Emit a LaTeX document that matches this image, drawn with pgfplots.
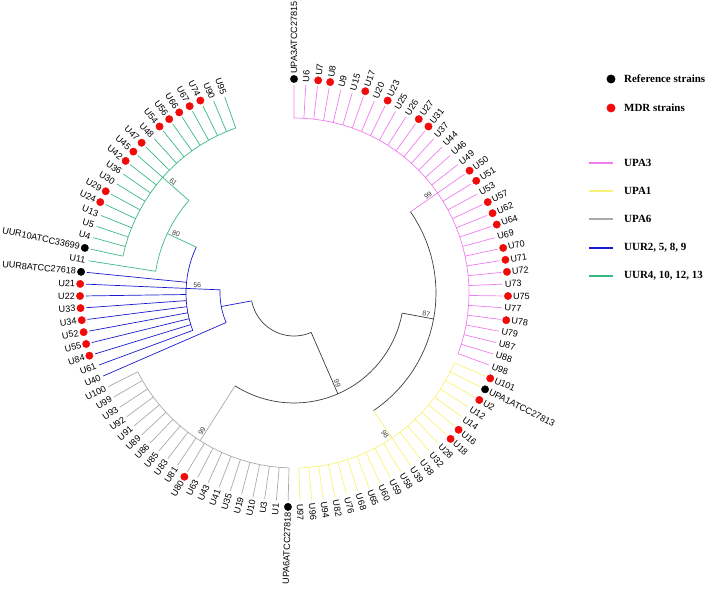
\documentclass[border=0pt]{standalone}
\usepackage{pgfplots}
\pgfplotsset{compat=1.18}
\usepackage{fontspec}
\setmainfont{Liberation Sans}
\newfontfamily\legfont{Liberation Serif}
\definecolor{pinkc}{RGB}{240,125,240}
\definecolor{yelc}{RGB}{248,242,120}
\definecolor{grayc}{RGB}{170,170,170}
\definecolor{bluec}{RGB}{25,25,205}
\definecolor{greenc}{RGB}{60,185,130}
\definecolor{treec}{RGB}{60,60,60}
\definecolor{mdr}{RGB}{240,10,10}
\newcommand{\PX}{\thisrow{r}*cos(90-\thisrow{t}*3.243243)}
\newcommand{\PY}{\thisrow{r}*sin(90-\thisrow{t}*3.243243)}
\pgfplotsset{tr/.style={line width=0.7bp,line join=round}}
\begin{document}
\begin{tikzpicture}
\begin{axis}[x=1bp,y=1bp,scale only axis,xmin=-294,xmax=415,ymin=-298,ymax=293,
  hide axis,clip=false]
% black backbone
\addplot[treec,tr] table[row sep=\\,x expr=\PX,y expr=\PY]{
t r\\
48.25 43\\49 43\\50 43\\51 43\\52 43\\53 43\\54 43\\55 43\\56 43\\57 43\\58 43\\59 43\\60 43\\61 43\\62 43\\63 43\\64 43\\65 43\\66 43\\67 43\\68 43\\69 43\\70 43\\71 43\\72 43\\73 43\\74 43\\75 43\\76 43\\77 43\\78 43\\79 43\\80 43\\
};
\addplot[treec,tr] table[row sep=\\,x expr=\PX,y expr=\PY]{
t r\\ 48.25 43\\48.25 110\\
};
\addplot[treec,tr] table[row sep=\\,x expr=\PX,y expr=\PY]{
t r\\
31 110\\32 110\\33 110\\34 110\\35 110\\36 110\\37 110\\38 110\\39 110\\40 110\\41 110\\42 110\\43 110\\44 110\\45 110\\46 110\\47 110\\48 110\\49 110\\50 110\\51 110\\52 110\\53 110\\54 110\\55 110\\56 110\\57 110\\58 110\\59 110\\60 110\\61 110\\62 110\\63 110\\64 110\\65 110\\65.5 110\\
};
\addplot[treec,tr] table[row sep=\\,x expr=\PX,y expr=\PY]{
t r\\ 31 110\\31 142\\
};
\addplot[treec,tr] table[row sep=\\,x expr=\PX,y expr=\PY]{
t r\\
17 142\\18 142\\19 142\\20 142\\21 142\\22 142\\23 142\\24 142\\25 142\\26 142\\27 142\\28 142\\29 142\\30 142\\31 142\\32 142\\33 142\\34 142\\35 142\\36 142\\37 142\\38 142\\39 142\\40 142\\41 142\\42 142\\43 142\\44 142\\45 142\\
};
% UPA3 (pink)
\addplot[pinkc,tr] table[row sep=\\,x expr=\PX,y expr=\PY]{
t r\\ 17 142\\17 175\\
};
\addplot[pinkc,tr] table[row sep=\\,x expr=\PX,y expr=\PY]{
t r\\
0 208\\0 175\\1 175\\1 208\\1 175\\2 175\\2 208\\2 175\\3 175\\3 208\\3 175\\4 175\\4 208\\4 175\\5 175\\5 208\\5 175\\6 175\\6 208\\6 175\\7 175\\7 208\\7 175\\8 175\\8 208\\8 175\\9 175\\9 208\\9 175\\10 175\\10 208\\10 175\\11 175\\11 208\\11 175\\12 175\\12 208\\12 175\\13 175\\13 208\\13 175\\14 175\\14 208\\14 175\\15 175\\15 208\\15 175\\16 175\\16 208\\16 175\\17 175\\17 208\\17 175\\18 175\\18 208\\18 175\\19 175\\19 208\\19 175\\20 175\\20 208\\20 175\\21 175\\21 208\\21 175\\22 175\\22 208\\22 175\\23 175\\23 208\\23 175\\24 175\\24 208\\24 175\\25 175\\25 208\\25 175\\26 175\\26 208\\26 175\\27 175\\27 208\\27 175\\28 175\\28 208\\28 175\\29 175\\29 208\\29 175\\30 175\\30 208\\30 175\\31 175\\31 208\\31 175\\32 175\\32 208\\32 175\\33 175\\33 208\\33 175\\34 175\\34 208\\
};
% UPA1 (yellow)
\addplot[yelc,tr] table[row sep=\\,x expr=\PX,y expr=\PY]{
t r\\ 45 142\\45 175\\
};
\addplot[yelc,tr] table[row sep=\\,x expr=\PX,y expr=\PY]{
t r\\
35 208\\35 175\\36 175\\36 208\\36 175\\37 175\\37 208\\37 175\\38 175\\38 208\\38 175\\39 175\\39 208\\39 175\\40 175\\40 208\\40 175\\41 175\\41 208\\41 175\\42 175\\42 208\\42 175\\43 175\\43 208\\43 175\\44 175\\44 208\\44 175\\45 175\\45 208\\45 175\\46 175\\46 208\\46 175\\47 175\\47 208\\47 175\\48 175\\48 208\\48 175\\49 175\\49 208\\49 175\\50 175\\50 208\\50 175\\51 175\\51 208\\51 175\\52 175\\52 208\\52 175\\53 175\\53 208\\53 175\\54 175\\54 208\\54 175\\55 175\\55 208\\
};
% UPA6 (gray)
\addplot[grayc,tr] table[row sep=\\,x expr=\PX,y expr=\PY]{
t r\\ 65.5 110\\65.5 175\\
};
\addplot[grayc,tr] table[row sep=\\,x expr=\PX,y expr=\PY]{
t r\\
56 208\\56 175\\57 175\\57 208\\57 175\\58 175\\58 208\\58 175\\59 175\\59 208\\59 175\\60 175\\60 208\\60 175\\61 175\\61 208\\61 175\\62 175\\62 208\\62 175\\63 175\\63 208\\63 175\\64 175\\64 208\\64 175\\65 175\\65 208\\65 175\\66 175\\66 208\\66 175\\67 175\\67 208\\67 175\\68 175\\68 208\\68 175\\69 175\\69 208\\69 175\\70 175\\70 208\\70 175\\71 175\\71 208\\71 175\\72 175\\72 208\\72 175\\73 175\\73 208\\73 175\\74 175\\74 208\\74 175\\75 175\\75 208\\
};
% UUR2,5,8,9 (blue)
\addplot[bluec,tr] table[row sep=\\,x expr=\PX,y expr=\PY]{
t r\\ 80 43\\80 74\\
};
\addplot[bluec,tr] table[row sep=\\,x expr=\PX,y expr=\PY]{
t r\\ 76 208\\76 74\\77 74\\78 74\\79 74\\80 74\\81 74\\82 74\\83 74\\84 74\\84 108\\
};
\addplot[bluec,tr] table[row sep=\\,x expr=\PX,y expr=\PY]{
t r\\
91 108\\90 108\\89 108\\88 108\\87 108\\86 108\\85 108\\85 208\\85 108\\84 108\\84 208\\84 108\\83 108\\83 208\\83 108\\82 108\\82 208\\82 108\\81 108\\81 208\\81 108\\80 108\\80 208\\80 108\\79 108\\79 208\\79 108\\78 108\\78 208\\78 108\\77 108\\77 208\\
};
% UUR4,10,12,13 (green)
\addplot[greenc,tr] table[row sep=\\,x expr=\PX,y expr=\PY]{
t r\\ 91 108\\91 140\\
};
\addplot[greenc,tr] table[row sep=\\,x expr=\PX,y expr=\PY]{
t r\\ 86 208\\86 140\\87 140\\88 140\\89 140\\90 140\\91 140\\92 140\\93 140\\94 140\\95 140\\96 140\\96 175\\
};
\addplot[greenc,tr] table[row sep=\\,x expr=\PX,y expr=\PY]{
t r\\
87 208\\87 175\\88 175\\88 208\\88 175\\89 175\\89 208\\89 175\\90 175\\90 208\\90 175\\91 175\\91 208\\91 175\\92 175\\92 208\\92 175\\93 175\\93 208\\93 175\\94 175\\94 208\\94 175\\95 175\\95 208\\95 175\\96 175\\96 208\\96 175\\97 175\\97 208\\97 175\\98 175\\98 208\\98 175\\99 175\\99 208\\99 175\\100 175\\100 208\\100 175\\101 175\\101 208\\101 175\\102 175\\102 208\\102 175\\103 175\\103 208\\103 175\\104 175\\104 208\\104 175\\105 175\\105 208\\
};
% reference strains
\addplot[only marks,mark=*,mark size=3.7,black] table[row sep=\\,x expr=\PX,y expr=\PY]{
t r\\ 0 214\\ 36 214\\ 56 214\\ 85 214\\ 87 214\\
};
% MDR strains
\addplot[only marks,mark=*,mark size=3.7,mdr,mark options={draw=mdr,fill=mdr}] table[row sep=\\,x expr=\PX,y expr=\PY]{
t r\\ 2 214\\ 3 214\\ 6 214\\ 8 214\\ 11 214\\ 12 214\\ 17 214\\ 18 214\\ 20 214\\ 21 214\\ 22 214\\ 24 214\\ 25 214\\ 26 214\\ 28 214\\ 30 214\\ 35 214\\ 37 214\\ 40 214\\ 41 214\\ 65 214\\ 78 214\\ 79 214\\ 80 214\\ 81 214\\ 82 214\\ 83 214\\ 84 214\\ 91 214\\ 92 214\\ 95 214\\ 96 214\\ 97 214\\ 99 214\\ 100 214\\ 101 214\\ 102 214\\ 103 214\\
};
% leaf labels, right half
\addplot[draw=none,nodes near coords,point meta=explicit symbolic,
  visualization depends on={value \thisrow{t} \as \leafidx},
  nodes near coords style={font=\fontsize{9.1}{10}\selectfont,inner sep=0pt,anchor=west,rotate={90-\leafidx*3.243243}}]
  table[row sep=\\,x expr=\PX,y expr=\PY,meta=lab]{
t r lab\\
0 219 UPA3ATCC27815\\ 1 211 U6\\ 2 219 U7\\ 3 219 U8\\ 4 211 U9\\ 5 211 U15\\ 6 219 U17\\ 7 211 U20\\ 8 219 U23\\ 9 211 U25\\ 10 211 U26\\ 11 219 U27\\ 12 219 U31\\ 13 211 U37\\ 14 211 U44\\ 15 211 U46\\ 16 211 U49\\ 17 219 U50\\ 18 219 U51\\ 19 211 U53\\ 20 219 U57\\ 21 219 U62\\ 22 219 U64\\ 23 211 U69\\ 24 219 U70\\ 25 219 U71\\ 26 219 U72\\ 27 211 U73\\ 28 219 U75\\ 29 211 U77\\ 30 219 U78\\ 31 211 U79\\ 32 211 U87\\ 33 211 U88\\ 34 211 U98\\
35 219 U101\\ 36 219 UPA1ATCC27813\\ 37 219 U2\\ 38 211 U12\\ 39 211 U14\\ 40 219 U16\\ 41 219 U18\\ 42 211 U28\\ 43 211 U32\\ 44 211 U38\\ 45 211 U39\\ 46 211 U58\\ 47 211 U59\\ 48 211 U60\\ 49 211 U65\\ 50 211 U68\\ 51 211 U76\\ 52 211 U82\\ 53 211 U94\\ 54 211 U96\\ 55 211 U97\\
};
% leaf labels, left half
\addplot[draw=none,nodes near coords,point meta=explicit symbolic,
  visualization depends on={value \thisrow{t} \as \leafidx},
  nodes near coords style={font=\fontsize{9.1}{10}\selectfont,inner sep=0pt,anchor=east,rotate={270-\leafidx*3.243243}}]
  table[row sep=\\,x expr=\PX,y expr=\PY,meta=lab]{
t r lab\\
56 219 UPA6ATCC27818\\ 57 211 U1\\ 58 211 U3\\ 59 211 U10\\ 60 211 U19\\ 61 211 U35\\ 62 211 U41\\ 63 211 U43\\ 64 211 U63\\ 65 219 U80\\ 66 211 U81\\ 67 211 U83\\ 68 211 U85\\ 69 211 U86\\ 70 211 U89\\ 71 211 U91\\ 72 211 U92\\ 73 211 U93\\ 74 211 U99\\ 75 211 U100\\
76 211 U40\\ 77 211 U61\\ 78 219 U84\\ 79 219 U55\\ 80 219 U52\\ 81 219 U34\\ 82 219 U33\\ 83 219 U22\\ 84 219 U21\\ 85 219 UUR8ATCC27618\\
86 211 U11\\ 87 219 UUR10ATCC33699\\ 88 211 U4\\ 89 211 U5\\ 90 211 U13\\ 91 219 U24\\ 92 219 U29\\ 93 211 U30\\ 94 211 U36\\ 95 219 U42\\ 96 219 U45\\ 97 219 U47\\ 98 211 U48\\ 99 219 U54\\ 100 219 U56\\ 101 219 U66\\ 102 219 U67\\ 103 219 U74\\ 104 211 U90\\ 105 211 U95\\
};
% bootstrap values (label above branch)
\addplot[draw=none,nodes near coords,point meta=explicit symbolic,
  visualization depends on={value \thisrow{rot} \as \brot},
  nodes near coords style={font=\fontsize{7}{8}\selectfont,text=treec,inner sep=1pt,anchor=south,rotate=\brot}]
  table[row sep=\\,x expr=\PX,y expr=\PY,meta=lab]{
t r rot lab\\
17 166 34.9 99\\ 31 134 -10.5 87\\ 48.25 100 -66.5 99\\ 65.5 166 57.6 99\\ 84 97 -2.4 56\\ 91 132 -25.1 80\\ 96 164 -41.3 61\\
};
% bootstrap value below branch
\addplot[draw=none,nodes near coords,point meta=explicit symbolic,
  visualization depends on={value \thisrow{rot} \as \brot},
  nodes near coords style={font=\fontsize{7}{8}\selectfont,text=treec,inner sep=1pt,anchor=north,rotate=\brot}]
  table[row sep=\\,x expr=\PX,y expr=\PY,meta=lab]{
t r rot lab\\
45 168 -56 98\\
};
% legend
\addplot[only marks,mark=*,mark size=4.2,black] coordinates {(317,214)};
\addplot[only marks,mark=*,mark size=4.2,mdr,mark options={draw=mdr,fill=mdr}] coordinates {(317,185)};
\addplot[pinkc,line width=2.2bp] coordinates {(295,130) (319,130)};
\addplot[yelc,line width=2.2bp] coordinates {(295,102) (319,102)};
\addplot[grayc,line width=2.2bp] coordinates {(295,74) (319,74)};
\addplot[bluec,line width=2.2bp] coordinates {(295,45) (319,45)};
\addplot[greenc,line width=2.2bp] coordinates {(295,17) (319,17)};
\begin{scope}[every node/.style={anchor=west,inner sep=0pt,font=\legfont\bfseries\fontsize{11}{13}\selectfont}]
\node at (axis cs:330,214) {Reference strains};
\node at (axis cs:330,185) {MDR strains};
\node at (axis cs:330,130) {UPA3};
\node at (axis cs:330,102) {UPA1};
\node at (axis cs:330,74) {UPA6};
\node at (axis cs:330,45) {UUR2, 5, 8, 9};
\node at (axis cs:330,17) {UUR4, 10, 12, 13};
\end{scope}
\end{axis}
\pgfresetboundingbox
\path (current axis.south west) rectangle (current axis.north east);
\end{tikzpicture}
\end{document}
